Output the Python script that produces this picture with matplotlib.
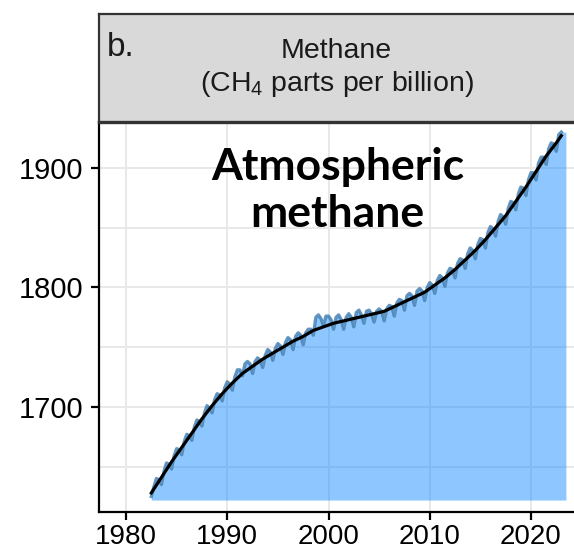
import numpy as np
import matplotlib
matplotlib.use("Agg")
import matplotlib.pyplot as plt

plt.rcParams['font.family'] = ['Liberation Sans', 'DejaVu Sans']
plt.rcParams['mathtext.fontset'] = 'custom'
plt.rcParams['mathtext.rm'] = 'Liberation Sans'
plt.rcParams['xtick.labelsize'] = 20
plt.rcParams['ytick.labelsize'] = 21

# quarterly CH4 (ppb): Jan, Apr, Jul, Oct of each year, starting Jul 1982
ch4_start = 1982.5
ch4_ppb = [
    1625, 1633,
    1640, 1639, 1635, 1646,
    1653, 1652, 1648, 1659,
    1665, 1664, 1660, 1671,
    1677, 1676, 1672, 1683,
    1689, 1688, 1684, 1695,
    1701, 1699, 1695, 1706,
    1711, 1710, 1705, 1716,
    1721, 1719, 1714, 1725,
    1731, 1731, 1726, 1736,
    1738, 1736, 1728, 1738,
    1741, 1739, 1733, 1743,
    1748, 1746, 1739, 1749,
    1753, 1751, 1744, 1754,
    1758, 1756, 1748, 1759,
    1762, 1760, 1752, 1762,
    1765, 1765, 1760, 1775,
    1777, 1774, 1768, 1776,
    1776, 1773, 1765, 1775,
    1777, 1773, 1765, 1775,
    1778, 1775, 1767, 1779,
    1781, 1777, 1770, 1780,
    1781, 1778, 1771, 1780,
    1782, 1780, 1772, 1782,
    1785, 1784, 1776, 1787,
    1790, 1789, 1781, 1793,
    1795, 1793, 1785, 1797,
    1799, 1797, 1789, 1800,
    1804, 1802, 1795, 1806,
    1810, 1808, 1801, 1812,
    1816, 1815, 1808, 1820,
    1824, 1823, 1816, 1828,
    1833, 1831, 1824, 1836,
    1841, 1840, 1833, 1846,
    1851, 1849, 1843, 1855,
    1861, 1859, 1853, 1866,
    1872, 1871, 1865, 1878,
    1884, 1883, 1877, 1890,
    1896, 1896, 1890, 1904,
    1909, 1909, 1903, 1916,
    1921, 1920, 1914, 1928,
    1930,
]

# smoothed long-term trend (ppb)
trend_years = [1982.5, 1983.5, 1984.5, 1985.5, 1986.5, 1987.5, 1988.5, 1989.5,
               1990.5, 1991.5, 1992.5, 1993.5, 1994.5, 1995.5, 1996.5, 1997.5,
               1998.5, 1999.5, 2000.5, 2001.5, 2002.5, 2003.5, 2004.5, 2005.5,
               2006.5, 2007.5, 2008.5, 2009.5, 2010.5, 2011.5, 2012.5, 2013.5,
               2014.5, 2015.5, 2016.5, 2017.5, 2018.5, 2019.5, 2020.5, 2021.5,
               2022.5, 2023.0]
trend_ppb = [1628, 1641, 1654, 1666, 1678, 1690, 1701, 1711,
             1720, 1728, 1734, 1740, 1745, 1750, 1755, 1759,
             1764, 1767, 1770, 1772, 1774, 1776, 1778, 1780,
             1784, 1788, 1792, 1796, 1802, 1808, 1815, 1823,
             1831, 1840, 1850, 1860, 1872, 1884, 1897, 1910,
             1921, 1927]

fill_base = 1622
fill_end_year = 2023.45
x_ticks = [1980, 1990, 2000, 2010, 2020]
y_ticks = [1700, 1800, 1900]

ch4_years = ch4_start + 0.25 * np.arange(len(ch4_ppb))

W, H = 574, 555
fig = plt.figure(figsize=(W / 100, H / 100), dpi=100)
# panel spans x 99..574 px, y 122..512 px; strip sits above it, y 14..122 px
ax = fig.add_axes([99 / W, (H - 512) / H, 1 - 99 / W, 390 / H])
strip = fig.add_axes([99 / W, (H - 122) / H, 1 - 99 / W, 108 / H])

# panel
ax.set_xlim(1977.33, 2024.25)
ax.set_ylim(1612, 1938.5)
ax.set_xticks(x_ticks)
ax.set_yticks(y_ticks)
ax.set_yticks([1650, 1750, 1850], minor=True)
ax.tick_params(which='minor', length=0)
ax.grid(True, which='both', color='#e8e8e8', linewidth=1.4, zorder=0)
ax.set_axisbelow(True)

fill_x = np.append(ch4_years, fill_end_year)
fill_y = np.append(ch4_ppb, ch4_ppb[-1])
ax.fill_between(fill_x, fill_base, fill_y, color='dodgerblue', alpha=0.5,
                linewidth=0, zorder=1)
ax.plot(ch4_years, ch4_ppb, color='steelblue', alpha=0.85, linewidth=2.4, zorder=2)
ax.plot(trend_years, trend_ppb, color='black', linewidth=2.3, zorder=3)

ax.text(2000.9, 1881, 'Atmospheric\nmethane', family='Lato', weight='bold',
        fontsize=32, ha='center', va='center', linespacing=1.2, zorder=4)

for side in ['top', 'right']:
    ax.spines[side].set_visible(False)
for side in ['left', 'bottom']:
    ax.spines[side].set_linewidth(1.6)
    ax.spines[side].set_color('black')
ax.tick_params(which='major', direction='out', length=6, width=1.6,
               pad=5, colors='black')
ax.tick_params(axis='x', pad=2.5)

# facet strip
strip.set_facecolor('#d9d9d9')
strip.set_xticks([])
strip.set_yticks([])
strip.spines['right'].set_visible(False)
for side in ['top', 'left', 'bottom']:
    strip.spines[side].set_color('#333333')
    strip.spines[side].set_linewidth(1.6)
strip.spines['bottom'].set_linewidth(2.4)
strip.text(0.5, 0.66, 'Methane', fontsize=20.5, ha='center', va='center',
           color='#1a1a1a', transform=strip.transAxes)
strip.text(0.5, 0.35, r'(CH$_{4}$ parts per billion)', fontsize=20.5,
           ha='center', va='center', color='#1a1a1a', transform=strip.transAxes)
strip.text(0.017, 0.61, 'b.', fontsize=24, ha='left', va='baseline',
           color='#1a1a1a', transform=strip.transAxes)

fig.savefig('out.png', dpi=100)
